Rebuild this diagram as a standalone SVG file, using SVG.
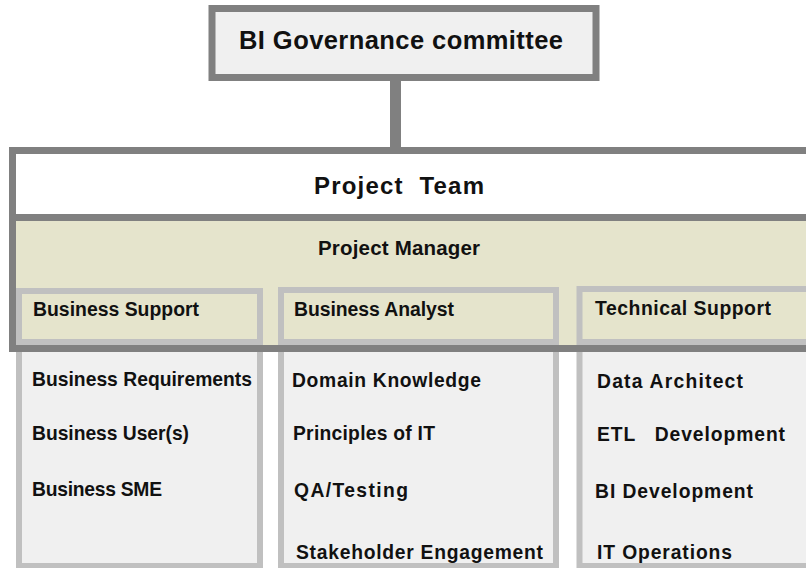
<svg xmlns="http://www.w3.org/2000/svg" width="806" height="568" viewBox="0 0 806 568">
<style>
.t{font-family:"Liberation Sans",Arial,sans-serif;font-weight:bold;fill:#111;white-space:pre}
.col{fill:#f0f0f0;stroke:#c0c0c0;stroke-width:6}
.sub{fill:#e5e4cc;stroke:#c0c0c0;stroke-width:6}
.dark{stroke:#808080;stroke-width:7}
.s19{font-size:19.3px}
.s195{font-size:19.4px}
</style>
<rect width="806" height="568" fill="#ffffff"/>
<g id="connectors">
<line x1="395.5" y1="80" x2="395.5" y2="148" stroke="#808080" stroke-width="11"/>
</g>
<g id="bi-governance">
<rect x="212" y="8.5" width="384" height="69" fill="#f0f0f0" class="dark"/>
<text class="t" x="239" y="49" font-size="25.5" textLength="324">BI Governance committee</text>
</g>
<g id="col-business">
<rect class="col" x="19" y="345" width="241" height="221"/>
<text class="t s19" x="32" y="386" textLength="220">Business Requirements</text>
<text class="t s19" x="32" y="440" textLength="157">Business User(s)</text>
<text class="t s19" x="32" y="496" textLength="130">Business SME</text>
</g>
<g id="col-analyst">
<rect class="col" x="281" y="345" width="275" height="221"/>
<text class="t s19" x="292" y="387" textLength="189">Domain Knowledge</text>
<text class="t s19" x="293" y="440" textLength="142">Principles of IT</text>
<text class="t s19" x="294" y="497" textLength="114">QA/Testing</text>
<text class="t s19" x="296" y="559" textLength="247">Stakeholder Engagement</text>
</g>
<g id="col-technical">
<rect class="col" x="579.5" y="345" width="240" height="221"/>
<text class="t s19" x="597" y="388" textLength="146">Data Architect</text>
<text class="t s19" x="597" y="441" textLength="188">ETL   Development</text>
<text class="t s19" x="595" y="498" textLength="158">BI Development</text>
<text class="t s19" x="597" y="559" textLength="135">IT Operations</text>
</g>
<g id="project-team">
<rect x="12.5" y="150.5" width="810" height="198" fill="#e5e4cc"/>
<rect x="16" y="154" width="800" height="60" fill="#ffffff"/>
<text class="t" x="314" y="194" font-size="24" textLength="170">Project  Team</text>
</g>
<g id="project-manager">
<text class="t" x="318" y="255" font-size="20.5" textLength="162">Project Manager</text>
</g>
<g id="business-support">
<rect class="sub" x="19" y="291" width="241" height="51"/>
<text class="t s195" x="33" y="316" textLength="166">Business Support</text>
</g>
<g id="business-analyst">
<rect class="sub" x="281" y="290" width="275" height="52"/>
<text class="t s195" x="294" y="316" textLength="160">Business Analyst</text>
</g>
<g id="technical-support">
<rect class="sub" x="579.5" y="289" width="240" height="53"/>
<text class="t s195" x="595" y="315" textLength="176">Technical Support</text>
</g>
<g id="project-team-border">
<rect x="12.5" y="150.5" width="810" height="198" fill="none" class="dark"/>
<line x1="9" y1="217.5" x2="815" y2="217.5" class="dark"/>
</g>
</svg>
